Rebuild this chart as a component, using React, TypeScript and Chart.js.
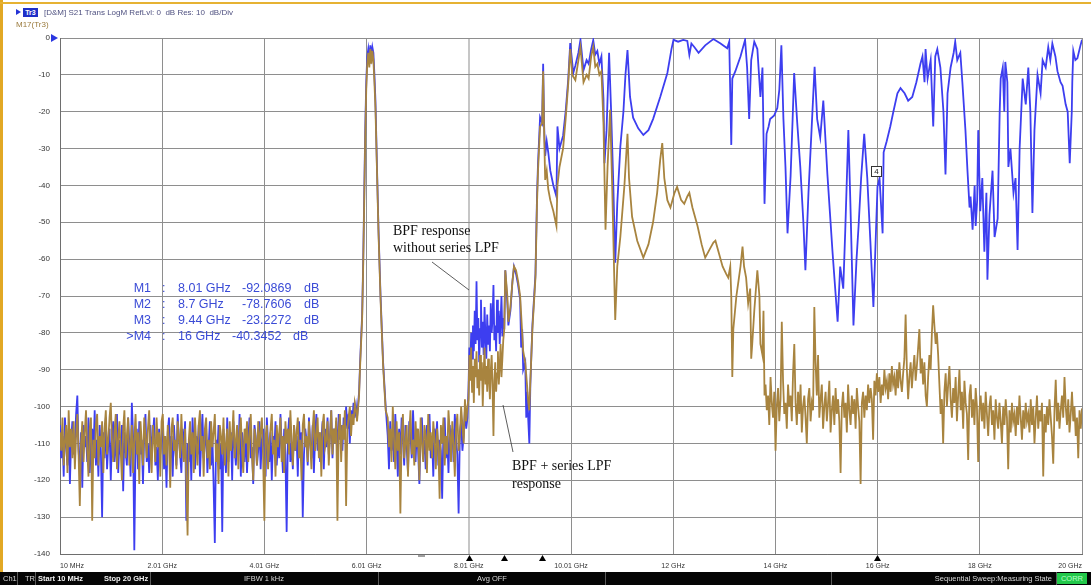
import React, { useEffect, useRef } from 'react';
import { Chart, registerables } from 'chart.js';

Chart.register(...registerables);

const W = 1091;
const H = 585;

// ---- axes ----
const xTickValues = [0.01, 2.009, 4.008, 6.007, 8.006, 10.005, 12.004, 14.003, 16.002, 18.001, 20];
const xTickLabels = ['10 MHz', '2.01 GHz', '4.01 GHz', '6.01 GHz', '8.01 GHz', '10.01 GHz', '12 GHz', '14 GHz', '16 GHz', '18 GHz', '20 GHz'];
const yTickValues = [0, -10, -20, -30, -40, -50, -60, -70, -80, -90, -100, -110, -120, -130, -140];

// ---- markers ----
const markerFreqs = [8.01, 8.7, 9.44, 16];
const markerNames = ['M1', 'M2', 'M3', '>M4'];
const markerFreqText = ['8.01 GHz', '8.7 GHz', '9.44 GHz', '16 GHz'];
const markerValText = ['-92.0869', '-78.7606', '-23.2272', '-40.3452'];
const activeMarkerValue = -40.3452;

// ---- blue trace: BPF response without series LPF ----
const blueNoiseLow = [
  -105, -114, -108, -119, -103, -111, -116, -106, -121, -109,
  -104, -113, -110, -102, -97, -112, -117, -107, -122, -105,
  -111, -108, -115, -103, -118, -110, -106, -113, -101, -116,
  -109, -119, -105, -112, -130, -107, -114, -103, -117, -110,
  -106, -120, -108, -104, -115, -111, -102, -118, -109, -113,
  -105, -123, -107, -112, -116, -103, -110, -119, -99, -108,
  -139, -111, -106, -117, -104, -113, -109, -121, -107, -102,
  -115, -110, -118, -105, -112, -108, -103, -116, -111, -120,
  -106, -113, -109, -104, -117, -110, -122, -107, -103, -114,
  -108, -119, -105, -111, -116, -102, -109, -113, -118, -106,
  -112, -104, -131, -110, -115, -107, -120, -103, -111, -117,
  -108, -113, -105, -119, -109, -102, -114, -110, -106, -118,
  -111, -104, -116, -108, -121, -137, -109, -113, -105, -117,
  -110, -134, -106, -112, -118, -103, -115, -109, -107, -120,
  -104, -111, -116, -108, -113, -102, -119, -107, -110, -115,
  -106, -118, -109, -103, -114, -111, -121, -105, -108, -116,
  -112, -104, -117, -109, -106, -113, -119, -103, -110, -115,
  -107, -120, -108, -112, -104, -116, -109, -114, -102, -111,
  -118, -106, -113, -134, -108, -103, -115, -110, -117, -105,
  -112, -108, -119, -104, -111, -107, -130, -113, -106, -109,
  -116, -103, -110, -114, -105, -118, -108, -102, -112, -107,
  -115, -109, -104, -117, -106, -111, -103, -113, -108, -101,
  -114, -106, -110, -104, -116, -102, -109, -105, -112, -103,
  -108, -100, -106, -102, -110, -101, -104, -99, -103, -100,
];
const bluePeak = [
  [5.82, -103], [5.86, -96], [5.88, -88], [5.92, -75], [5.94, -61], [5.96, -43], [5.98, -25],
  [6.0, -12], [6.02, -5], [6.04, -3], [6.06, -6], [6.08, -2], [6.1, -5], [6.12, -2.5], [6.14, -4],
  [6.16, -10], [6.18, -17], [6.21, -35], [6.24, -52], [6.28, -70], [6.33, -88], [6.38, -100],
];
const blueNoiseMid = [
  -108, -117, -104, -112, -107, -115, -102, -110, -119, -106,
  -113, -103, -109, -116, -105, -111, -118, -104, -108, -114,
  -101, -110, -115, -106, -112, -121, -107, -103, -113, -109,
  -117, -105, -111, -102, -114, -108, -119, -106, -110, -104,
  -116, -109, -112, -125, -107, -103, -114, -108, -118, -105,
  -111, -106, -115, -102, -109, -113, -129, -107, -104, -112,
  -108, -101, -106, -103,
];
const blueBpf = [
  -95, -84, -89, -80, -87, -78, -85, -74, -83, -66,
  -82, -76, -88, -79, -71, -84, -77, -86, -73, -81,
  -87, -75, -83, -78, -85, -72, -80, -76, -67, -82,
  -78, -85, -71, -80, -74, -83, -77, -70, -81, -76,
];
const blueUpper = [
  [8.7, -79], [8.72, -63], [8.76, -72], [8.78, -78], [8.82, -74], [8.86, -66], [8.89, -62], [8.93, -64],
  [8.97, -67], [9.01, -71], [9.03, -84], [9.05, -79], [9.07, -90], [9.11, -88], [9.13, -103], [9.15, -96],
  [9.17, -104], [9.19, -110], [9.21, -94], [9.25, -78], [9.31, -64], [9.34, -43], [9.36, -34], [9.4, -21.5],
  [9.44, -23], [9.46, -7], [9.48, -24], [9.5, -32], [9.53, -28], [9.56, -31], [9.6, -36], [9.66, -40],
  [9.72, -43], [9.74, -24], [9.78, -30], [9.85, -26.5], [9.9, -20], [9.95, -11.4], [9.99, -1.4], [10.05, -9.5],
  [10.09, -7.5], [10.15, -4], [10.19, -0.5], [10.25, -8.7], [10.31, -6], [10.35, -7], [10.4, -3], [10.44, -0.6],
  [10.48, -4.5], [10.52, -3.5], [10.56, -7], [10.6, -5], [10.64, -16.5], [10.66, -34], [10.7, -25], [10.75, -4],
  [10.79, -20], [10.83, -38.5], [10.87, -61], [10.91, -45], [10.97, -29.5], [11.03, -20], [11.07, -10], [11.11, -3.3],
  [11.16, -16], [11.22, -21.6], [11.32, -24.5], [11.42, -26.3], [11.52, -25], [11.61, -22], [11.75, -16], [11.89, -9.5],
  [11.97, -3], [12.01, -0.5], [12.1, -1], [12.2, -0.5], [12.28, -0.8], [12.32, -4.6], [12.36, -1.5], [12.42, -2.5],
  [12.5, -4], [12.63, -2], [12.79, -0.3], [12.93, -1.5], [13.06, -2.8], [13.1, -1], [13.14, -29], [13.16, -11],
  [13.22, -9], [13.32, -5], [13.41, -0.5], [13.45, -8], [13.49, -22], [13.53, -6], [13.59, -1], [13.65, -3],
  [13.71, -16], [13.75, -8], [13.79, -45], [13.83, -26], [13.87, -24], [13.9, -22], [13.98, -21], [14.04, -19],
  [14.08, -14], [14.12, -2], [14.16, -22], [14.2, -35], [14.24, -53], [14.3, -37.5], [14.34, -22], [14.37, -9.5],
  [14.43, -23], [14.49, -35], [14.55, -50], [14.59, -63], [14.65, -42], [14.71, -25], [14.77, -7.8], [14.82, -22],
  [14.88, -27], [14.94, -17], [15.02, -37], [15.12, -58], [15.22, -77], [15.27, -62], [15.33, -68], [15.37, -52],
  [15.43, -25], [15.47, -45], [15.53, -78], [15.59, -60], [15.63, -51], [15.68, -38], [15.74, -26], [15.8, -38],
  [15.86, -55], [15.92, -73], [16.0, -40.3], [16.04, -38], [16.1, -53], [16.12, -31], [16.18, -28], [16.25, -24],
  [16.31, -20], [16.39, -15], [16.45, -13.6], [16.53, -15], [16.6, -17], [16.68, -16], [16.76, -12], [16.84, -7],
  [16.88, -5], [16.92, -12], [16.94, -3], [16.98, -11], [17.04, -6], [17.09, -24], [17.13, -5], [17.17, -3],
  [17.23, -8], [17.29, -20], [17.33, -37], [17.37, -15], [17.43, -8], [17.49, -4], [17.52, -1], [17.56, -6],
  [17.62, -4], [17.66, -12], [17.72, -25], [17.76, -36], [17.8, -46], [17.82, -43], [17.86, -52], [17.9, -40],
  [17.92, -51], [17.95, -44], [17.97, -25], [18.01, -47], [18.05, -38], [18.09, -58], [18.13, -42], [18.15, -65.6],
  [18.19, -48], [18.25, -36], [18.29, -54], [18.35, -49], [18.39, -20], [18.41, -11], [18.45, -8], [18.48, -20],
  [18.5, -6.5], [18.54, -12], [18.56, -35], [18.6, -30], [18.66, -42], [18.7, -38], [18.74, -57.5], [18.78, -30],
  [18.84, -11], [18.9, -18], [18.95, -8], [18.99, -20], [19.03, -47.5], [19.07, -25], [19.13, -10], [19.19, -15],
  [19.23, -6], [19.29, -8], [19.34, -2.5], [19.38, -6], [19.42, -1.5], [19.48, -5], [19.52, -9], [19.58, -12],
  [19.62, -13], [19.68, -18], [19.72, -20], [19.76, -34], [19.8, -20], [19.81, -12], [19.83, -3.5], [19.87, -6],
  [19.91, -5.5], [19.97, -2], [20.0, -0.5],
];

// ---- brown trace: BPF + series LPF response ----
const brownNoiseLow = [
  -107, -112, -103, -116, -109, -105, -118, -101, -111, -106,
  -114, -104, -117, -108, -102, -113, -127, -110, -104, -115,
  -107, -101, -112, -119, -106, -103, -131, -109, -114, -105,
  -102, -116, -108, -111, -104, -118, -106, -101, -113, -109,
  -103, -99, -110, -115, -107, -102, -117, -109, -104, -112,
  -120, -106, -101, -114, -108, -103, -116, -111, -105, -118,
  -109, -102, -113, -107, -121, -104, -110, -116, -103, -108,
  -114, -106, -101, -112, -118, -105, -109, -115, -103, -111,
  -107, -119, -104, -102, -113, -108, -116, -105, -110, -122,
  -106, -103, -112, -109, -117, -104, -108, -114, -102, -111,
  -115, -106, -120, -135, -109, -104, -113, -107, -118, -103,
  -110, -116, -105, -101, -112, -108, -119, -106, -103, -114,
  -109, -117, -104, -111, -107, -102, -115, -110, -121, -105,
  -108, -113, -103, -116, -110, -106, -119, -104, -112, -108,
  -101, -114, -109, -105, -117, -107, -103, -112, -118, -106,
  -110, -104, -115, -108, -102, -113, -120, -106, -109, -116,
  -104, -111, -107, -103, -114, -131, -108, -105, -117, -110,
  -106, -102, -113, -109, -119, -105, -111, -107, -103, -115,
  -108, -118, -104, -110, -106, -113, -101, -109, -116, -105,
  -112, -107, -103, -114, -109, -120, -105, -102, -111, -108,
  -115, -104, -110, -117, -106, -101, -112, -108, -103, -114,
  -107, -119, -105, -102, -111, -109, -104, -116, -108, -101,
  -113, -106, -110, -103, -131, -107, -102, -115, -105, -109,
  -101, -127, -106, -103, -100, -108, -102, -105, -99, -101,
];
const brownPeak = [
  [5.82, -104], [5.86, -97], [5.88, -89], [5.92, -76], [5.94, -62], [5.96, -45], [5.98, -27],
  [6.0, -14], [6.02, -7], [6.04, -4], [6.06, -8], [6.08, -3], [6.1, -7], [6.12, -3.5], [6.14, -6],
  [6.16, -12], [6.18, -19], [6.21, -36], [6.24, -53], [6.28, -71], [6.33, -89], [6.38, -101],
];
const brownNoiseMid = [
  -103, -111, -106, -115, -100, -109, -117, -104, -112, -107,
  -129, -108, -102, -114, -110, -105, -119, -107, -101, -113,
  -109, -116, -104, -111, -106, -120, -103, -110, -115, -105,
  -108, -118, -102, -112, -107, -114, -104, -109, -117, -106,
  -111, -125, -105, -110, -103, -116, -108, -113, -101, -107,
  -115, -104, -110, -119, -106, -102, -112, -108, -100, -105,
  -110, -98, -104, -100,
];
const brownBpf = [
  -98, -86, -93, -84, -96, -89, -99, -87, -92, -85,
  -95, -90, -97, -86, -93, -88, -100, -91, -84, -94,
  -89, -96, -87, -92, -98, -90, -86, -95, -108, -93,
  -88, -96, -91, -85, -94, -89, -83, -92, -87, -82,
];
const brownUpper = [
  [8.7, -79], [8.72, -63], [8.76, -70], [8.78, -77], [8.82, -73], [8.86, -66], [8.89, -62], [8.93, -63],
  [8.97, -66], [9.01, -70], [9.05, -80], [9.07, -85], [9.11, -88], [9.15, -95], [9.17, -99], [9.19, -101],
  [9.21, -93], [9.25, -79], [9.31, -65], [9.34, -45], [9.36, -36], [9.4, -24], [9.44, -23.2], [9.46, -9],
  [9.48, -26], [9.5, -38.5], [9.53, -36], [9.56, -41], [9.6, -44], [9.66, -47], [9.72, -51], [9.74, -40],
  [9.78, -35], [9.85, -30], [9.9, -22], [9.95, -12.6], [9.99, -3], [10.03, -10], [10.09, -11.4], [10.15, -6],
  [10.19, -2.5], [10.25, -12], [10.31, -10], [10.35, -11], [10.4, -5], [10.44, -2.4], [10.48, -7.8], [10.52, -7],
  [10.56, -10], [10.6, -9], [10.64, -23], [10.68, -52], [10.72, -35], [10.77, -19.5], [10.81, -40], [10.87, -76.5],
  [10.91, -62], [10.97, -54], [11.05, -40], [11.11, -26], [11.14, -38], [11.2, -48.5], [11.3, -55], [11.42, -59.6],
  [11.52, -56], [11.61, -50], [11.69, -42], [11.75, -33], [11.79, -28.5], [11.83, -38], [11.89, -44], [11.95, -46],
  [12.03, -42], [12.08, -40.4], [12.16, -44], [12.22, -45], [12.28, -43], [12.32, -42], [12.38, -46], [12.48, -51],
  [12.56, -56], [12.63, -59.6], [12.73, -57], [12.79, -55.5], [12.83, -55], [12.89, -58], [12.97, -62], [13.04, -64],
  [13.08, -65], [13.12, -62], [13.14, -70], [13.16, -92], [13.18, -79], [13.24, -70], [13.28, -66], [13.32, -62],
  [13.36, -56.6], [13.39, -62], [13.43, -65], [13.47, -72], [13.51, -68], [13.53, -87], [13.55, -83], [13.59, -74],
  [13.65, -63], [13.69, -70], [13.71, -83], [13.75, -86], [13.77, -74], [13.79, -97],
];
const brownTail = [
  -94, -101, -97, -105, -92, -99, -103, -96, -112, -100,
  -95, -104, -98, -77, -93, -102, -99, -106, -94, -100,
  -97, -104, -91, -83, -99, -105, -96, -102, -94, -107,
  -100, -97, -103, -110, -98, -95, -104, -99, -101, -73,
  -88, -97, -86, -103, -98, -94, -106, -100, -96, -104,
  -99, -93, -107, -101, -97, -105, -95, -102, -98, -104,
  -118, -100, -96, -103, -99, -107, -94, -101, -105, -97,
  -102, -98, -106, -95, -100, -104, -121, -99, -96, -103,
  -97, -101, -94, -99, -95, -98, -109, -93, -97, -91,
  -96, -92, -99, -94, -97, -90, -95, -93, -98, -91,
  -96, -89, -94, -92, -97, -90, -95, -88, -93, -96,
  -91, -87, -75, -90, -98, -92, -88, -95, -90, -86,
  -93, -89, -84, -79, -91, -87, -94, -88, -97, -100,
  -92, -86, -90, -80, -72.5, -78, -83, -80, -86, -94,
  -102, -98, -110, -96, -91, -100, -94, -89, -98, -103,
  -95, -99, -92, -104, -97, -90, -101, -96, -106, -93,
  -99, -102, -114.5, -97, -94, -103, -98, -105, -95, -100,
  -115, -101, -97, -104, -99, -106, -96, -102, -108, -100,
  -97, -105, -101, -109, -98, -103, -106, -99, -104, -110,
  -100, -105, -98, -103, -117, -101, -107, -99, -104, -102,
  -108, -100, -105, -97, -103, -109, -101, -106, -99, -104,
  -102, -107, -98, -105, -100, -110, -103, -97, -106, -101,
  -104, -99, -119, -102, -107, -100, -105, -98, -103, -108,
  -115.5, -101, -92.7, -104, -99, -106, -101, -97, -103, -92,
  -100, -105, -98, -107, -102, -96, -104, -100, -108, -103,
  -114, -101, -106, -100.5,
];

const BLUE = '#3d3ef0';
const BROWN = '#a8843f';

function evenSeg(f0: number, f1: number, vals: number[]) {
  const n = vals.length;
  return vals.map((v, i) => ({ x: f0 + ((f1 - f0) * i) / (n - 1), y: v }));
}
function pairs(arr: number[][]) {
  return arr.map(([x, y]) => ({ x, y }));
}

const blueData = [
  ...evenSeg(0.01, 5.8, blueNoiseLow),
  ...pairs(bluePeak),
  ...evenSeg(6.42, 7.98, blueNoiseMid),
  ...evenSeg(8.0, 8.68, blueBpf),
  ...pairs(blueUpper),
];
const brownData = [
  ...evenSeg(0.01, 5.8, brownNoiseLow),
  ...pairs(brownPeak),
  ...evenSeg(6.42, 7.98, brownNoiseMid),
  ...evenSeg(8.0, 8.68, brownBpf),
  ...pairs(brownUpper),
  ...evenSeg(13.81, 20, brownTail),
];

const decorPlugin = {
  id: 'vnaDecor',
  afterDraw(chart: any) {
    const { ctx, chartArea } = chart;
    const xs = chart.scales.x;
    const ys = chart.scales.y;
    ctx.save();
    ctx.fillStyle = '#000';
    for (const f of markerFreqs) {
      const px = Math.round(xs.getPixelForValue(f)) + 0.5;
      ctx.beginPath();
      ctx.moveTo(px, chartArea.bottom + 1);
      ctx.lineTo(px - 3.5, chartArea.bottom + 7);
      ctx.lineTo(px + 3.5, chartArea.bottom + 7);
      ctx.closePath();
      ctx.fill();
    }
    const dx = xs.getPixelForValue(7.07);
    ctx.fillStyle = '#a0a0a0';
    ctx.fillRect(Math.round(dx) - 3, chartArea.bottom + 1, 7, 2);
    const ry = ys.getPixelForValue(0);
    ctx.fillStyle = '#2a36e0';
    ctx.beginPath();
    ctx.moveTo(chartArea.left - 9, ry - 4);
    ctx.lineTo(chartArea.left - 2, ry);
    ctx.lineTo(chartArea.left - 9, ry + 4);
    ctx.closePath();
    ctx.fill();
    const mx = xs.getPixelForValue(markerFreqs[3]);
    const my = ys.getPixelForValue(activeMarkerValue);
    const bx = Math.round(mx) - 6;
    const by = Math.round(my) - 21;
    ctx.fillStyle = '#ffffff';
    ctx.fillRect(bx, by, 11, 11);
    ctx.strokeStyle = '#333';
    ctx.lineWidth = 1;
    ctx.strokeRect(bx + 0.5, by + 0.5, 10, 10);
    ctx.fillStyle = '#222';
    ctx.font = '8px Arial, "Liberation Sans", sans-serif';
    ctx.textAlign = 'center';
    ctx.textBaseline = 'middle';
    ctx.fillText('4', bx + 5.5, by + 6);
    ctx.restore();
  },
};

type TxtProps = {
  x: number;
  y: number;
  text: string;
  size?: number;
  color?: string;
  bold?: boolean;
  align?: 'left' | 'right' | 'center';
  family?: string;
};
function Txt({ x, y, text, size = 8, color = '#222', bold = false, align = 'left', family }: TxtProps) {
  const tx = align === 'left' ? '0' : align === 'right' ? '-100%' : '-50%';
  return (
    <div
      style={{
        position: 'absolute',
        left: x,
        top: y,
        transform: `translate(${tx}, -50%)`,
        fontSize: size,
        lineHeight: 1,
        color,
        fontWeight: bold ? 700 : 400,
        whiteSpace: 'pre',
        fontFamily: family || 'Arial, "Liberation Sans", sans-serif',
      }}
    >
      {text}
    </div>
  );
}

export default function App() {
  const ref = useRef<HTMLCanvasElement>(null);

  useEffect(() => {
    if (!ref.current) return;
    const chart = new Chart(ref.current, {
      type: 'line',
      data: {
        datasets: [
          {
            label: 'BPF + series LPF response',
            data: brownData,
            borderColor: BROWN,
            borderWidth: 1.8,
            pointRadius: 0,
            tension: 0,
          },
          {
            label: 'BPF response without series LPF',
            data: blueData,
            borderColor: BLUE,
            borderWidth: 1.8,
            pointRadius: 0,
            tension: 0,
          },
        ],
      },
      options: {
        responsive: false,
        maintainAspectRatio: false,
        devicePixelRatio: 1,
        animation: false,
        events: [],
        layout: { padding: { top: 38, right: 9, left: 0, bottom: 0 } },
        plugins: { legend: { display: false }, tooltip: { enabled: false } },
        scales: {
          x: {
            type: 'linear',
            min: 0.01,
            max: 20,
            afterBuildTicks: (s: any) => {
              s.ticks = xTickValues.map((v) => ({ value: v }));
            },
            afterFit: (s: any) => {
              s.height = 31;
            },
            grid: {
              drawTicks: false,
              color: (c: any) => (c.index === 4 ? '#c6c6c6' : '#8e8e8e'),
              lineWidth: (c: any) => (c.index === 4 ? 2 : 1),
            },
            border: { display: true, color: '#6e6e6e' },
            ticks: {
              autoSkip: false,
              maxRotation: 0,
              align: 'inner',
              padding: 8,
              color: '#333',
              font: { size: 7, family: 'Arial, "Liberation Sans", sans-serif' },
              callback: (_v: any, i: number) => xTickLabels[i],
            },
          },
          y: {
            min: -140,
            max: 0,
            afterBuildTicks: (s: any) => {
              s.ticks = yTickValues.map((v) => ({ value: v }));
            },
            afterFit: (s: any) => {
              s.width = 60;
            },
            grid: { drawTicks: false, color: '#8e8e8e', lineWidth: 1 },
            border: { display: true, color: '#6e6e6e' },
            ticks: {
              padding: 10,
              color: '#333',
              font: { size: 8, family: 'Arial, "Liberation Sans", sans-serif' },
              callback: (v: any) => String(v),
            },
          },
        },
      },
      plugins: [decorPlugin],
    } as any);
    return () => chart.destroy();
  }, []);

  const statusSeps = [17, 35, 150, 378, 605, 831, 1056];
  const markerRowsY = [288, 304, 320, 336];
  const markerValX = [242, 242, 242, 232];
  const markerDbX = [304, 304, 304, 293];
  const serif = '"Liberation Serif", "Times New Roman", serif';

  return (
    <div
      style={{
        position: 'fixed',
        left: 0,
        top: 0,
        width: W,
        height: H,
        background: '#ffffff',
        overflow: 'hidden',
      }}
    >
      <canvas ref={ref} width={W} height={H} style={{ position: 'absolute', left: 0, top: 0, width: W, height: H }} />

      <div style={{ position: 'absolute', left: 0, top: 0, width: 3, height: 572, background: '#e2a824' }} />
      <div style={{ position: 'absolute', left: 0, top: 2, width: W, height: 2, background: '#e6b232' }} />

      <div
        style={{
          position: 'absolute',
          left: 16,
          top: 9,
          width: 0,
          height: 0,
          borderTop: '3.5px solid transparent',
          borderBottom: '3.5px solid transparent',
          borderLeft: '5px solid #2433d6',
        }}
      />
      <div
        style={{
          position: 'absolute',
          left: 23,
          top: 8,
          width: 15,
          height: 9,
          background: '#1f2fc8',
          color: '#fff',
          fontSize: 7,
          lineHeight: '9px',
          textAlign: 'center',
          fontFamily: 'Arial, "Liberation Sans", sans-serif',
          fontWeight: 700,
        }}
      >
        Tr3
      </div>
      <Txt x={44} y={13} text="[D&M] S21 Trans LogM RefLvl: 0  dB Res: 10  dB/Div" size={8} color="#4f5180" />
      <Txt x={16} y={25} text="M17(Tr3)" size={8} color="#9a7a3c" />

      {markerNames.map((n, i) => (
        <React.Fragment key={n}>
          <Txt x={151} y={markerRowsY[i]} text={n} size={12.5} color="#3a4bd6" align="right" />
          <Txt x={162} y={markerRowsY[i]} text=":" size={12.5} color="#3a4bd6" />
          <Txt x={178} y={markerRowsY[i]} text={markerFreqText[i]} size={12.5} color="#3a4bd6" />
          <Txt x={markerValX[i]} y={markerRowsY[i]} text={markerValText[i]} size={12.5} color="#3a4bd6" />
          <Txt x={markerDbX[i]} y={markerRowsY[i]} text="dB" size={12.5} color="#3a4bd6" />
        </React.Fragment>
      ))}

      <Txt x={393} y={231} text="BPF response" size={14} color="#111" family={serif} />
      <Txt x={393} y={248} text="without series LPF" size={14} color="#111" family={serif} />
      <Txt x={512} y={466} text="BPF + series LPF" size={14} color="#111" family={serif} />
      <Txt x={512} y={484} text="response" size={14} color="#111" family={serif} />
      <svg width={W} height={H} style={{ position: 'absolute', left: 0, top: 0, pointerEvents: 'none' }}>
        <line x1={432} y1={262} x2={469} y2={290} stroke="#333" strokeWidth={0.8} />
        <line x1={503} y1={405} x2={513} y2={452} stroke="#333" strokeWidth={0.8} />
      </svg>

      <div style={{ position: 'absolute', left: 0, top: 572, width: W, height: 13, background: '#050505' }} />
      {statusSeps.map((sx) => (
        <div key={sx} style={{ position: 'absolute', left: sx, top: 572, width: 1, height: 13, background: '#5a5a5a' }} />
      ))}
      <Txt x={3} y={579} text="Ch1" size={7.5} color="#d8d8d8" />
      <Txt x={25} y={579} text="TR" size={7.5} color="#d8d8d8" />
      <Txt x={38} y={579} text="Start 10 MHz" size={7.5} color="#f0f0f0" bold />
      <Txt x={104} y={579} text="Stop 20 GHz" size={7.5} color="#f0f0f0" bold />
      <Txt x={264} y={579} text="IFBW 1 kHz" size={7.5} color="#d8d8d8" align="center" />
      <Txt x={492} y={579} text="Avg OFF" size={7.5} color="#d8d8d8" align="center" />
      <Txt x={1052} y={579} text="Sequential Sweep:Measuring State" size={7.5} color="#d8d8d8" align="right" />
      <div
        style={{
          position: 'absolute',
          left: 1057,
          top: 573,
          width: 30,
          height: 11,
          background: '#22c84a',
          color: '#b8ffc8',
          fontSize: 7.5,
          lineHeight: '11px',
          textAlign: 'center',
          fontFamily: 'Arial, "Liberation Sans", sans-serif',
        }}
      >
        CORR
      </div>
    </div>
  );
}
